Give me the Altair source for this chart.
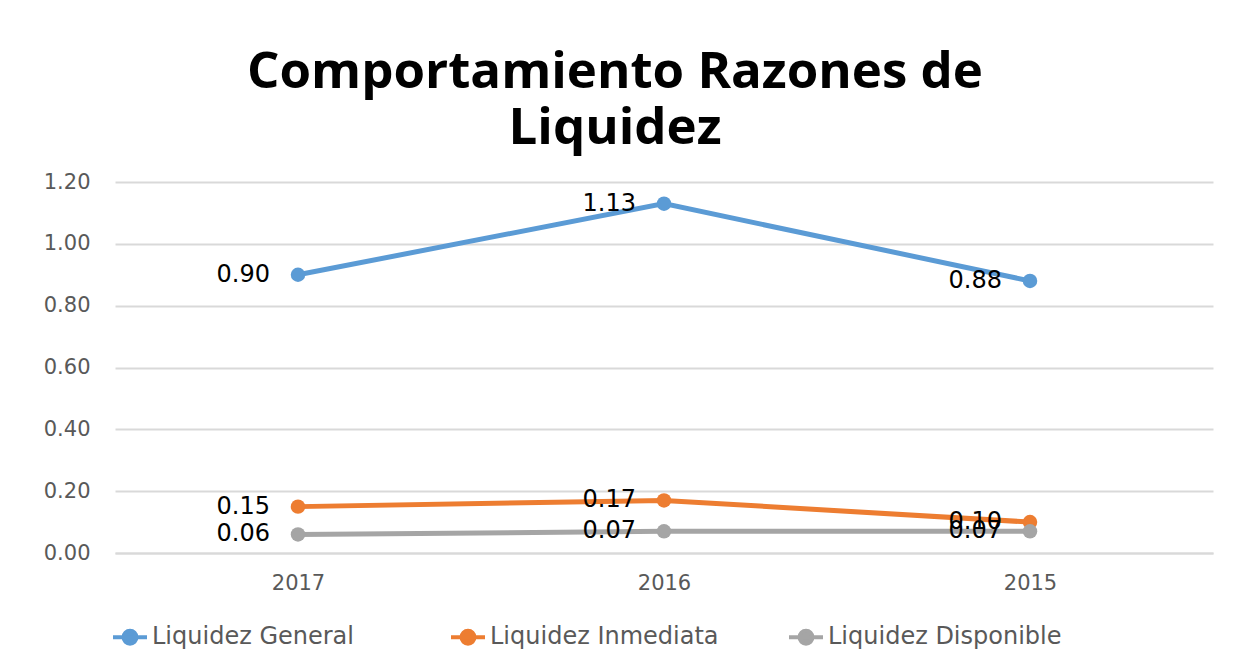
import altair as alt
import pandas as pd

years = ["2017", "2016", "2015"]
series = ["Liquidez General", "Liquidez Inmediata", "Liquidez Disponible"]
general = [0.90, 1.13, 0.88]
inmediata = [0.15, 0.17, 0.10]
disponible = [0.06, 0.07, 0.07]
colors = ["#5B9BD5", "#ED7D31", "#A5A5A5"]

rows = []
for name, vals in zip(series, [general, inmediata, disponible]):
    for y, v in zip(years, vals):
        rows.append({"year": y, "serie": name, "value": v})
df = pd.DataFrame(rows)

r = 0.38
legend_path = (
    "M-1,0 L1,0 "
    f"M-{r},0 A{r},{r} 0 1,0 {r},0 A{r},{r} 0 1,0 -{r},0 Z"
)

x = alt.X("year:N", sort=years, title=None,
          scale=alt.Scale(paddingOuter=0.5, paddingInner=0),
          axis=alt.Axis(labelAngle=0, labelFontSize=21, labelColor="#595959",
                        labelFont="DejaVu Sans", labelPadding=19, ticks=False,
                        domain=True, domainColor="#D9D9D9", domainWidth=2,
                        grid=False))
y = alt.Y("value:Q", title=None,
          scale=alt.Scale(domain=[0, 1.2], nice=False),
          axis=alt.Axis(values=[0, 0.2, 0.4, 0.6, 0.8, 1.0, 1.2], format=".2f",
                        labelFontSize=21, labelColor="#595959", labelFont="DejaVu Sans",
                        labelPadding=25, ticks=False, domain=False,
                        grid=True, gridColor="#D9D9D9", gridWidth=2))
color = alt.Color("serie:N", sort=series,
                  scale=alt.Scale(domain=series, range=colors),
                  legend=alt.Legend(title=None, orient="none", direction="horizontal",
                                    legendX=-4, legendY=436, columns=3, gridAlign="all",
                                    symbolType=legend_path, symbolSize=1156,
                                    symbolStrokeWidth=4, labelFontSize=24,
                                    labelFont="DejaVu Sans", labelColor="#595959",
                                    labelOffset=3, columnPadding=57, labelLimit=500,
                                    symbolOpacity=1))

base = alt.Chart(df)
lines = base.mark_line(strokeWidth=5).encode(x=x, y=y, color=color, detail="serie:N")
points = base.mark_point(filled=True, size=210, opacity=1).encode(
    x=x, y=y, color=color)
labels = base.mark_text(align="right", baseline="middle", dx=-28, fontSize=24,
                        font="DejaVu Sans", color="#000000").encode(
    x=x, y=y, text=alt.Text("value:Q", format=".2f"))

chart = alt.layer(lines, points, labels).properties(
    width=1098, height=371,
    autosize=alt.AutoSizeParams(type="none"),
    padding={"left": 107, "top": 174, "right": 17, "bottom": 100},
    background="white",
    title=alt.TitleParams(text=["Comportamiento Razones de", "Liquidez"],
                          font="Open Sans", fontSize=51, fontWeight="bold",
                          color="#000000", anchor="middle", dx=-49,
                          lineHeight=56, offset=16),
).configure_view(stroke=None)

chart.save("out.html", embed_options={"renderer": "svg", "actions": False})
